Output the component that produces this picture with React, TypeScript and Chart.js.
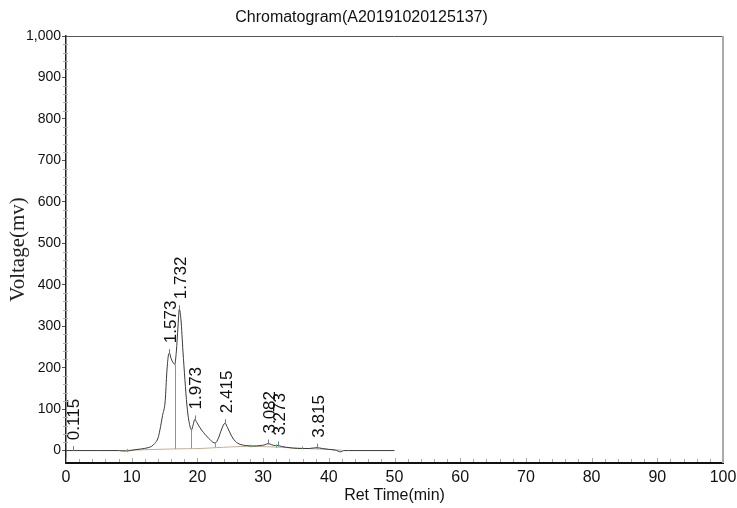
import React, { useEffect, useRef } from 'react';
import { Chart, registerables } from 'chart.js';
Chart.register(...registerables);

const TITLE = 'Chromatogram(A20191020125137)';
const X_TITLE = 'Ret Time(min)';
const Y_TITLE = 'Voltage(mv)';

// chromatogram trace (min, mV)
const times = [0, 5, 8.0, 8.5, 9.2, 9.8, 10.5, 11.5, 12.5, 13.0, 13.5, 14.0, 14.3, 14.7, 15.1, 15.35, 15.6, 15.75, 16.0, 16.3, 16.55, 16.8, 17.05, 17.25, 17.5, 17.8, 18.1, 18.4, 18.7, 19.1, 19.35, 19.6, 19.9, 20.4, 20.9, 21.4, 22.0, 22.7, 23.2, 23.7, 24.2, 24.6, 25.2, 25.8, 26.5, 27.5, 28.5, 29.5, 30.3, 30.8, 31.3, 31.9, 32.3, 32.8, 33.5, 34.5, 35.9, 37.0, 38.2, 39.0, 40.0, 41.0, 41.8, 42.3, 43, 50];
const voltages = [0, 0, 0, -1, -1, 0, 2, 4, 7, 10, 17, 30, 50, 85, 120, 190, 231, 235, 222, 212, 208, 240, 300, 341, 315, 240, 171, 110, 72, 50, 62, 75, 68, 55, 44, 35, 25, 18, 30, 52, 66, 55, 35, 22, 15, 12, 11, 12, 14, 17, 14, 12, 12, 10, 8, 6, 5, 5, 7, 5, 3, 1, -3, 0, 0, 0];

// integration baseline
const baseTimes = [8.2, 12, 16.6, 20.4, 24, 27.5, 31, 35, 38, 42];
const baseValues = [0, 2, 4, 5, 8, 10, 9, 6, 4, 1];

// peaks
const peakTimes = [1.0, 15.7, 17.25, 19.6, 24.2, 30.8, 32.3, 38.2];
const peakValues = [1, 235, 341, 75, 66, 17, 12, 7];
const peakLabels = ['0.115', '1.573', '1.732', '1.973', '2.415', '3.082', '3.273', '3.815'];

// green drop lines
const dropTimes = [9.3, 16.55, 19.1, 22.7, 28.0, 31.9, 35.9];
const dropTops = [4, 208, 50, 18, 14, 15, 10];
const dropBottoms = [-4, 4, 5, 8, 8, 7, 4];

const xTicks = [0, 10, 20, 30, 40, 50, 60, 70, 80, 90, 100];
const yTicks = [0, 100, 200, 300, 400, 500, 600, 700, 800, 900, 1000];

const SANS = "'Liberation Sans', Arial, sans-serif";

const decorPlugin = {
  id: 'decor',
  afterDatasetsDraw(chart: any) {
    const { ctx } = chart;
    const xs = chart.scales.x;
    const ys = chart.scales.y;
    ctx.save();
    // drop lines
    ctx.strokeStyle = '#5cb85c';
    ctx.lineWidth = 1;
    dropTimes.forEach((t, i) => {
      const px = Math.round(xs.getPixelForValue(t)) + 0.5;
      ctx.beginPath();
      ctx.moveTo(px, ys.getPixelForValue(dropBottoms[i]));
      ctx.lineTo(px, ys.getPixelForValue(dropTops[i]));
      ctx.stroke();
    });
    // peak markers and labels
    peakTimes.forEach((t, i) => {
      const px = xs.getPixelForValue(t);
      const py = ys.getPixelForValue(peakValues[i]);
      ctx.strokeStyle = '#6a7aa8';
      ctx.lineWidth = 1;
      ctx.beginPath();
      ctx.moveTo(Math.round(px) + 0.5, py - 4);
      ctx.lineTo(Math.round(px) + 0.5, py + 1);
      ctx.stroke();
      ctx.save();
      ctx.translate(px + 2, py - 10);
      ctx.rotate(-Math.PI / 2);
      ctx.fillStyle = '#111';
      ctx.font = "17px 'Liberation Sans', Arial, sans-serif";
      ctx.textAlign = 'left';
      ctx.textBaseline = 'middle';
      ctx.fillText(peakLabels[i], 0, 0);
      ctx.restore();
    });
    ctx.restore();
  },
  afterDraw(chart: any) {
    const { ctx, chartArea } = chart;
    const xs = chart.scales.x;
    const ys = chart.scales.y;
    ctx.save();
    // top border
    ctx.strokeStyle = '#555';
    ctx.lineWidth = 1;
    ctx.beginPath();
    ctx.moveTo(chartArea.left, chartArea.top + 0.5);
    ctx.lineTo(chartArea.right, chartArea.top + 0.5);
    ctx.stroke();
    // right border
    ctx.strokeStyle = '#aaa';
    ctx.lineWidth = 2;
    ctx.beginPath();
    ctx.moveTo(chartArea.right, chartArea.top);
    ctx.lineTo(chartArea.right, chartArea.bottom);
    ctx.stroke();
    // x minor ticks (inside)
    ctx.strokeStyle = '#aaa';
    ctx.lineWidth = 1;
    for (let v = 0; v <= 100; v += 2) {
      const px = Math.round(xs.getPixelForValue(v)) + 0.5;
      const len = v % 10 === 0 ? 4 : 3;
      ctx.beginPath();
      ctx.moveTo(px, chartArea.bottom - 1);
      ctx.lineTo(px, chartArea.bottom - 1 - len);
      ctx.stroke();
    }
    // y minor ticks
    for (let v = 0; v <= 1000; v += 20) {
      if (v % 100 === 0) continue;
      const py = Math.round(ys.getPixelForValue(v)) + 0.5;
      ctx.beginPath();
      ctx.moveTo(chartArea.left - 3, py);
      ctx.lineTo(chartArea.left + 2, py);
      ctx.stroke();
    }
    ctx.restore();
  },
};

export default function App() {
  const ref = useRef<HTMLCanvasElement>(null);
  useEffect(() => {
    document.body.style.margin = '0';
    const chart = new Chart(ref.current as HTMLCanvasElement, {
      type: 'line',
      data: {
        datasets: [
          {
            data: times.map((t, i) => ({ x: t, y: voltages[i] })),
            borderColor: '#3a3a3a',
            borderWidth: 1,
            pointRadius: 0,
            cubicInterpolationMode: 'monotone',
            fill: false,
          },
          {
            data: baseTimes.map((t, i) => ({ x: t, y: baseValues[i] })),
            borderColor: '#c4ae92',
            borderWidth: 1,
            pointRadius: 0,
            tension: 0.3,
            fill: false,
          },
        ],
      },
      options: {
        animation: false,
        responsive: true,
        maintainAspectRatio: false,
        layout: { padding: { top: 0, right: 14, bottom: 0, left: 0 } },
        plugins: {
          legend: { display: false },
          tooltip: { enabled: false },
          title: {
            display: true,
            text: TITLE,
            color: '#111',
            font: { family: SANS, size: 16, weight: 'normal' },
            padding: { top: 8, bottom: 8.8 },
          },
        },
        scales: {
          x: {
            type: 'linear',
            min: 0,
            max: 100,
            afterBuildTicks: (s: any) => { s.ticks = xTicks.map((v) => ({ value: v })); },
            afterFit: (s: any) => { s.height = 45; s.paddingRight = 0; s.paddingLeft = 0; },
            ticks: { color: '#111', font: { family: SANS, size: 16 }, padding: 5, maxRotation: 0 },
            grid: { display: true, drawOnChartArea: false, drawTicks: false },
            border: { display: true, color: '#111', width: 2 },
            title: {
              display: true,
              text: X_TITLE,
              color: '#111',
              font: { family: SANS, size: 16 },
              padding: { top: 0, bottom: 3 },
            },
          },
          y: {
            type: 'linear',
            min: -30,
            max: 1000,
            afterBuildTicks: (s: any) => { s.ticks = yTicks.map((v) => ({ value: v })); },
            afterFit: (s: any) => { s.width = 66; },
            ticks: { color: '#111', font: { family: SANS, size: 14 }, padding: 1 },
            grid: { display: true, drawOnChartArea: false, drawTicks: true, tickLength: 4, color: '#555' },
            border: { display: true, color: '#222', width: 1.5 },
            title: {
              display: true,
              text: Y_TITLE,
              color: '#222',
              font: { family: "'Liberation Serif', 'Times New Roman', serif", size: 21 },
              padding: { top: 6, bottom: 0 },
            },
          },
        },
      },
      plugins: [decorPlugin],
    } as any);
    return () => chart.destroy();
  }, []);
  return (
    <div style={{ position: 'absolute', left: 0, top: 0, width: 737, height: 508 }}>
      <canvas ref={ref} />
    </div>
  );
}
